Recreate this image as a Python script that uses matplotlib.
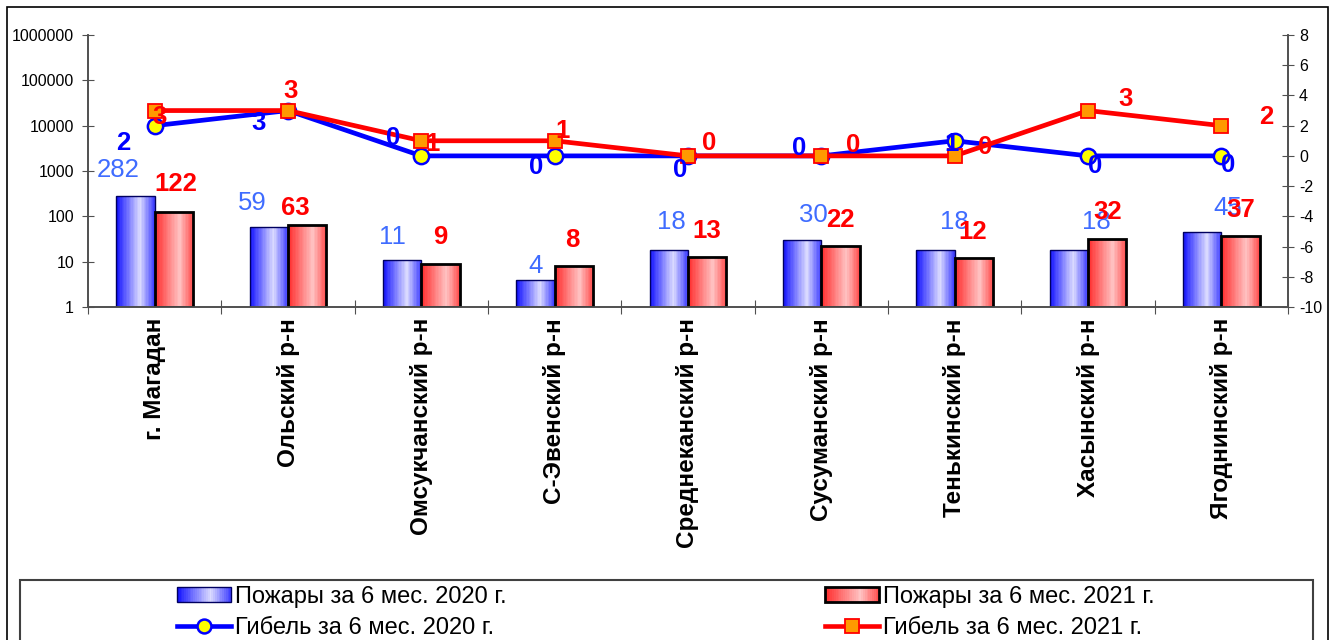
import matplotlib
matplotlib.use("Agg")
import matplotlib.pyplot as plt
import numpy as np
from matplotlib.patches import Rectangle
from matplotlib.lines import Line2D
from matplotlib.colors import LinearSegmentedColormap
from matplotlib.legend_handler import HandlerBase
from matplotlib.ticker import FixedLocator, NullLocator

plt.rcParams['font.family'] = ['Liberation Sans', 'DejaVu Sans']

# ---------------- data ----------------
categories = ["г. Магадан", "Ольский р-н", "Омсукчанский р-н", "С-Эвенский р-н",
              "Среднеканский р-н", "Сусуманский р-н", "Тенькинский р-н",
              "Хасынский р-н", "Ягоднинский р-н"]
fires_2020 = [282, 59, 11, 4, 18, 30, 18, 18, 45]
fires_2021 = [122, 63, 9, 8, 13, 22, 12, 32, 37]
deaths_2020 = [2, 3, 0, 0, 0, 0, 1, 0, 0]
deaths_2021 = [3, 3, 1, 1, 0, 0, 0, 3, 2]
left_ticks = [1, 10, 100, 1000, 10000, 100000, 1000000]
right_ticks = [-10, -8, -6, -4, -2, 0, 2, 4, 6, 8]
legend_labels = ["Пожары за 6 мес. 2020 г.", "Гибель за 6 мес. 2020 г.",
                 "Пожары за 6 мес. 2021 г.", "Гибель за 6 мес. 2021 г."]

# label offsets (pixels: dx right, dy up), purely cosmetic placement
off_f20 = [(-17, 26), (-17, 24), (-10, 23), (0, 14), (3, 28), (11, 25), (19, 28), (28, 28), (26, 24)]
off_f21 = [(2, 28), (-12, 17), (0, 27), (-2, 26), (0, 26), (0, 26), (-1, 26), (0, 27), (0, 26)]
off_d20 = [(-31, -17), (-29, -12), (-28, 18), (-19, -11), (-8, -14), (-22, 8), (-3, -3), (7, -10), (7, -9)]
off_d21 = [(5, -6), (3, 20), (11, -3), (8, 10), (21, 13), (32, 11), (30, 9), (38, 12), (45, 9)]

W, H = 1335, 640
fig = plt.figure(figsize=(W / 100, H / 100), dpi=100)
ax = fig.add_axes([88 / W, 1 - 307 / H, 1200 / W, 272 / H])
ax2 = ax.twinx()

cmap_blue = LinearSegmentedColormap.from_list("b", [(0, "#1010ff"), (0.62, "#dcdcff"), (1, "#3a3aff")])
cmap_red = LinearSegmentedColormap.from_list("r", [(0, "#ff2a2a"), (0.65, "#ffc4c4"), (1, "#ff4a4a")])

n = len(categories)
centers = np.arange(n) + 0.5
bw = 0.288
NS = 28

def grad_bar(axis, x0, val, cmap, ec, lw):
    for k in range(NS):
        wk = bw / NS
        axis.bar(x0 + k * wk, val - 1, width=wk * (1.15 if k < NS - 1 else 1.0), bottom=1,
                 align='edge', color=cmap((k + 0.5) / NS), linewidth=0, zorder=2)
    axis.bar(x0, val - 1, width=bw, bottom=1, align='edge', facecolor='none',
             edgecolor=ec, linewidth=lw, zorder=3)

for i in range(n):
    grad_bar(ax, centers[i] - bw, fires_2020[i], cmap_blue, "#000060", 1.0)
    grad_bar(ax, centers[i], fires_2021[i], cmap_red, "black", 2.0)

ax.set_yscale('log')
ax.set_ylim(1, 1e6)
ax.set_xlim(0, n)
ax.yaxis.set_major_locator(FixedLocator(left_ticks))
ax.yaxis.set_minor_locator(NullLocator())
ax.set_yticklabels([str(t) for t in left_ticks], fontsize=11.5)
ax.set_xticks(np.arange(n + 1))
ax.set_xticklabels([])
ax.set_xticks(centers, minor=True)
ax.set_xticklabels(categories, minor=True, rotation=90, fontsize=17.5, fontweight='bold')
ax.tick_params(axis='x', which='minor', length=0, pad=8)
ax.tick_params(axis='x', which='major', direction='inout', length=10, color='#505050')
ax.tick_params(axis='y', direction='inout', length=8, color='#505050', pad=6)

ax2.set_ylim(-10, 8)
ax2.set_yticks(right_ticks)
ax2.set_yticklabels([str(t) for t in right_ticks], fontsize=11.5)
ax2.tick_params(axis='y', direction='inout', length=8, color='#505050', pad=4)

for a in (ax, ax2):
    a.spines['top'].set_visible(False)
    for s in ('left', 'right', 'bottom'):
        a.spines[s].set_color('#505050')
        a.spines[s].set_linewidth(1.2)
ax.patch.set_visible(False)

ax2.plot(centers, deaths_2020, color='#0000ff', lw=3.4, marker='o', markersize=11,
         markerfacecolor='#ffff00', markeredgecolor='#0000ff', markeredgewidth=1.8, zorder=4)
ax2.plot(centers, deaths_2021, color='#ff0000', lw=3.4, marker='s', markersize=10,
         markerfacecolor='#ff9900', markeredgecolor='#ff0000', markeredgewidth=1.3, zorder=5)

pt = 0.72
fs_lab = 18.5
for i in range(n):
    ax.annotate(str(fires_2020[i]), (centers[i] - bw / 2, fires_2020[i]),
                xytext=(off_f20[i][0] * pt, off_f20[i][1] * pt), textcoords='offset points',
                ha='center', va='center', fontsize=fs_lab, color='#3f6cff', zorder=6)
    ax.annotate(str(fires_2021[i]), (centers[i] + bw / 2, fires_2021[i]),
                xytext=(off_f21[i][0] * pt, off_f21[i][1] * pt), textcoords='offset points',
                ha='center', va='center', fontsize=fs_lab, color='#ff0000', fontweight='bold', zorder=6)
    ax2.annotate(str(deaths_2020[i]), (centers[i], deaths_2020[i]),
                 xytext=(off_d20[i][0] * pt, off_d20[i][1] * pt), textcoords='offset points',
                 ha='center', va='center', fontsize=fs_lab, color='#0000ff', fontweight='bold', zorder=7)
    ax2.annotate(str(deaths_2021[i]), (centers[i], deaths_2021[i]),
                 xytext=(off_d21[i][0] * pt, off_d21[i][1] * pt), textcoords='offset points',
                 ha='center', va='center', fontsize=fs_lab, color='#ff0000', fontweight='bold', zorder=7)

# outer frame and legend frame
fig.add_artist(Rectangle((7 / W, -0.05), (1328 - 7) / W, 1.05 - 7 / H, transform=fig.transFigure,
                         fill=False, edgecolor='black', linewidth=1.2))
fig.add_artist(Rectangle((20 / W, -0.05), (1313 - 20) / W, 0.05 + 1 - 580 / H, transform=fig.transFigure,
                         fill=False, edgecolor='#404040', linewidth=1.5))

class HandlerGrad(HandlerBase):
    def __init__(self, cmap, ec, lw):
        super().__init__()
        self.cmap, self.ec, self.lw = cmap, ec, lw

    def create_artists(self, legend, orig_handle, xdescent, ydescent, width, height, fontsize, trans):
        arts = []
        m = 30
        for k in range(m):
            arts.append(Rectangle((-xdescent + width * k / m, -ydescent), width / m * 1.1, height,
                                  facecolor=self.cmap((k + 0.5) / m), edgecolor='none', transform=trans))
        arts.append(Rectangle((-xdescent, -ydescent), width, height, facecolor='none',
                              edgecolor=self.ec, linewidth=self.lw, transform=trans))
        return arts

h_b20 = Rectangle((0, 0), 1, 1)
h_b21 = Rectangle((0, 0), 1, 1)
h_l20 = Line2D([], [], color='#0000ff', lw=3.3, marker='o', markersize=10,
               markerfacecolor='#ffff00', markeredgecolor='#0000ff', markeredgewidth=1.8)
h_l21 = Line2D([], [], color='#ff0000', lw=3.3, marker='s', markersize=9.5,
               markerfacecolor='#ff9900', markeredgecolor='#ff0000', markeredgewidth=1.3)

leg_font = {'family': ['Liberation Sans Narrow', 'Liberation Sans', 'DejaVu Sans'], 'size': 17}
common = dict(loc='upper left', frameon=False, borderpad=0, borderaxespad=0, handlelength=2.3,
              handleheight=0.62, handletextpad=0.15, labelspacing=0.38, prop=leg_font)
leg1 = fig.legend([h_b20, h_l20], legend_labels[0:2], bbox_to_anchor=(177 / W, 1 - 586 / H),
                  handler_map={h_b20: HandlerGrad(cmap_blue, '#000060', 1.0)}, **common)
leg2 = fig.legend([h_b21, h_l21], legend_labels[2:4], bbox_to_anchor=(825 / W, 1 - 586 / H),
                  handler_map={h_b21: HandlerGrad(cmap_red, 'black', 2.0)}, **common)

fig.savefig("out.png", dpi=100)
